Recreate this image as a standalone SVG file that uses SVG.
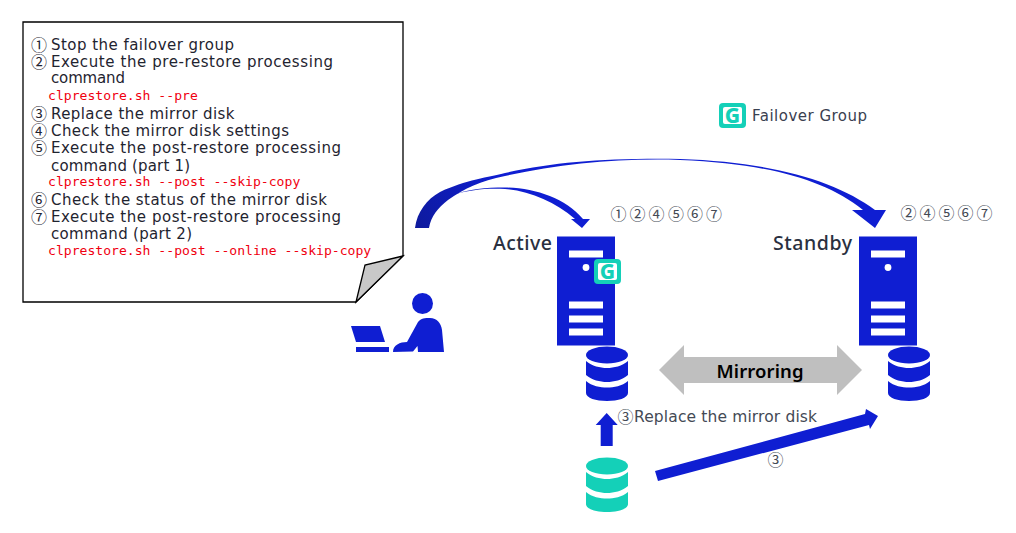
<svg xmlns="http://www.w3.org/2000/svg" width="1016" height="533" viewBox="0 0 1016 533">
<style>
text{font-family:"DejaVu Sans","Noto Sans CJK JP",sans-serif}
.t{font-size:15px;fill:#1f2430}
.d{font-family:"Noto Sans CJK JP",sans-serif;font-size:16px;fill:#1f2430}
.c{font-family:"DejaVu Sans Mono","Liberation Mono",monospace;font-size:13.1px;fill:#f00010}
.h{font-family:"Noto Sans",sans-serif;font-size:19.500px;font-weight:500;fill:#2a3040}
.n{font-family:"Noto Sans CJK JP",sans-serif;font-size:16px;fill:#444a55}
.b{fill:#0f1ed2}
.w{fill:#fff}
.tl{fill:#14d0b8}
</style>
<defs>
<linearGradient id="root" gradientUnits="userSpaceOnUse" x1="415" y1="228" x2="500" y2="175"><stop offset="0" stop-color="#0e1a9c"/><stop offset="1" stop-color="#0f1ed2"/></linearGradient>
<g id="srv"><rect class="b" width="58" height="109"/><rect class="w" x="12" y="14" width="34" height="7"/><circle class="w" cx="29" cy="31" r="3.4"/><rect class="w" x="12" y="65" width="34" height="7"/><rect class="w" x="12" y="79" width="34" height="7"/><rect class="w" x="12" y="92" width="34" height="7"/></g>
<g id="db"><ellipse cx="21" cy="8" rx="21" ry="8.500"/><path d="M0 14C6 19 14 21 21 21S36 19 42 14V28C36 33 28 35 21 35S6 33 0 28Z"/><path d="M0 34C6 39 14 40.500 21 40.500S36 39 42 34V46C42 51 32 54 21 54S0 51 0 46Z"/></g>
<g id="gi"><rect width="27" height="25" rx="4" class="tl"/><rect x="4" y="4" width="19" height="17" rx="2" class="w"/><text x="13.500" y="19.700" font-size="21" font-weight="800" text-anchor="middle" class="tl" style="font-family:'Noto Sans',sans-serif">G</text></g>
</defs>
<g id="connectors">
<path fill="url(#root)" d="M415 228C417 212 427 199 440 192C465 180 490 177 505 173C555 162 605 158 680 159C770 162 835 180 875 210H886L875 228L852 210H863C825 180 770 164 680 160C620 158 560 164 505 176C480 181 465 188 448 200C438 208 431 216 429 228Z"/>
<path fill="url(#root)" d="M452 195C470 189 485 187.500 505 187.500C535 188 565 198 583 219H590L582 228L571 219H575C555 202 530 191 505 189C485 188 470 190 456 194Z"/>
<path class="b" d="M600.700 446V425H595.700L606.700 413L617.700 425H612.700V446Z"/>
<path class="b" d="M655 471L865 414L866 409L878 416L870 429L869 425L658 481Z"/>
<path fill="#bfbfbf" d="M659 370L684 345V357H837V345L862 370L837 395V383H684V395Z"/>
</g>
<g id="note">
<path fill="#fff" stroke="#000" stroke-width="1.300" d="M23 22H403V256L356 302H23Z"/>
<path fill="#c8c8c8" stroke="#000" stroke-width="1.300" d="M403 256L365 265L356 302Z"/>
<text class="d" x="31" y="50.500">①</text><text class="t" x="51" y="50" textLength="183">Stop the failover group</text>
<text class="d" x="31" y="67.500">②</text><text class="t" x="51" y="67" textLength="282">Execute the pre-restore processing</text>
<text class="t" x="51" y="83" textLength="74">command</text>
<text class="c" x="48" y="100">clprestore.sh --pre</text>
<text class="d" x="31" y="119.500">③</text><text class="t" x="51" y="119" textLength="183.500">Replace the mirror disk</text>
<text class="d" x="31" y="136.500">④</text><text class="t" x="51" y="136" textLength="238">Check the mirror disk settings</text>
<text class="d" x="31" y="153.500">⑤</text><text class="t" x="51" y="153" textLength="290">Execute the post-restore processing</text>
<text class="t" x="51" y="170.500" textLength="139">command (part 1)</text>
<text class="c" x="48" y="186">clprestore.sh --post --skip-copy</text>
<text class="d" x="31" y="205.500">⑥</text><text class="t" x="51" y="205" textLength="276">Check the status of the mirror disk</text>
<text class="d" x="31" y="222.500">⑦</text><text class="t" x="51" y="222" textLength="290">Execute the post-restore processing</text>
<text class="t" x="51" y="238.500" textLength="141">command (part 2)</text>
<text class="c" x="48" y="255">clprestore.sh --post --online --skip-copy</text>
</g>
<g id="legend"><use href="#gi" x="719" y="103"/><text x="752" y="121" font-size="15" fill="#3a4050" textLength="115">Failover Group</text></g>
<g id="operator" class="b">
<circle cx="422.500" cy="303.500" r="10.500"/>
<path d="M393 352C393 345 400 342 407 342L418 322C421 318 425 318 430 318C437 318 441 323 442 330L444 352H418L417.500 346L413 351.500Z"/>
<path d="M351 326H380L385 342H356Z"/>
<rect x="356" y="347" width="33" height="5"/>
</g>
<g id="active">
<use href="#srv" x="557" y="236.500"/>
<use href="#gi" x="594" y="259"/>
<text class="h" x="493" y="250" textLength="59">Active</text>
<use href="#db" x="586" y="347" class="b"/>
<text class="n" x="610.500 629.500 648.500 668 687 706" y="219.500">①②④⑤⑥⑦</text>
</g>
<g id="standby">
<use href="#srv" x="859" y="236.500"/>
<text class="h" x="773" y="250" textLength="79">Standby</text>
<use href="#db" x="888" y="347" class="b"/>
<text class="n" x="900.500 919.500 938.500 957.500 976.500" y="218.500">②④⑤⑥⑦</text>
</g>
<g id="spare"><use href="#db" x="586" y="458" class="tl"/></g>
<text x="716.500" y="378" font-size="18.500" font-weight="600" fill="#000" textLength="87" style="font-family:'Noto Sans',sans-serif">Mirroring</text>
<text class="n" x="617.500" y="422.500">③</text><text x="634" y="422" font-size="15.500" fill="#444a55" textLength="183">Replace the mirror disk</text>
<text class="n" x="767.500" y="465.500">③</text>
</svg>
